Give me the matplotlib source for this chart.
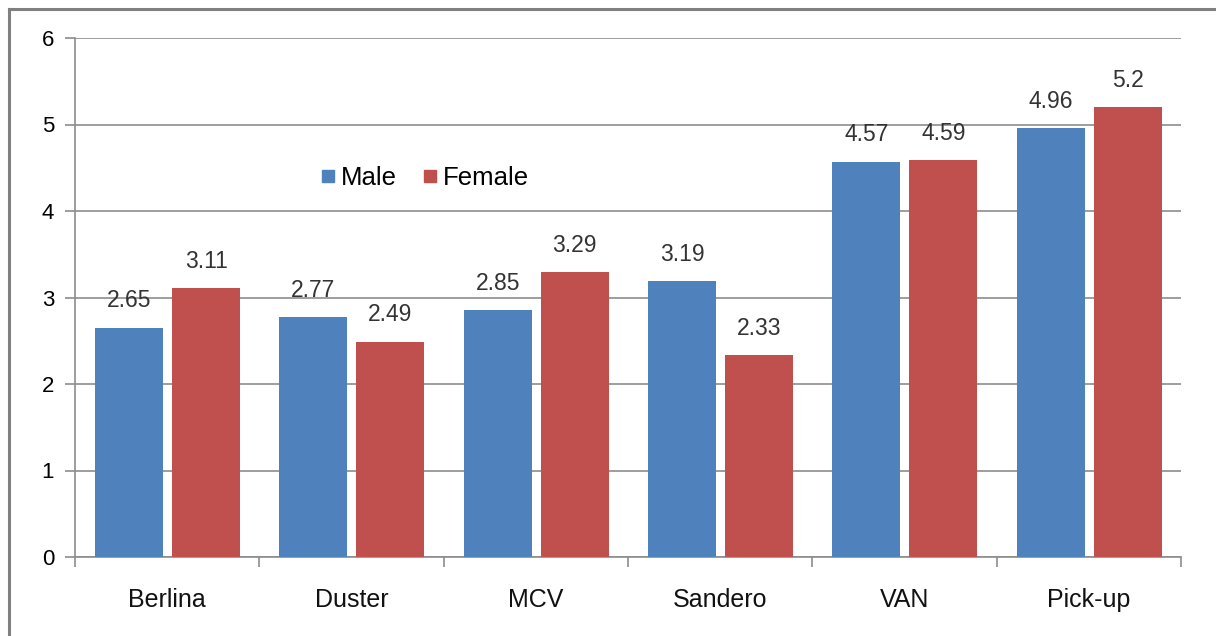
#!/usr/bin/env python3

import matplotlib.pyplot as plt
import numpy as np
from matplotlib.lines import Line2D

plt.rcParams["font.family"] = ["Liberation Sans", "DejaVu Sans"]

CATEGORIES = ["Berlina", "Duster", "MCV", "Sandero", "VAN", "Pick-up"]
MALE = [2.65, 2.77, 2.85, 3.19, 4.57, 4.96]
FEMALE = [3.11, 2.49, 3.29, 2.33, 4.59, 5.2]
VALUE_LABELS_MALE = ["2.65", "2.77", "2.85", "3.19", "4.57", "4.96"]
VALUE_LABELS_FEMALE = ["3.11", "2.49", "3.29", "2.33", "4.59", "5.2"]
Y_TICKS = [0, 1, 2, 3, 4, 5, 6]

BLUE = "#4F81BD"
RED = "#C0504D"
GRID = "#8c8c8c"


def main():
    fig = plt.figure(figsize=(12.16, 6.36), dpi=100)
    ax = fig.add_axes([75 / 1216, 79 / 636, 1106 / 1216, 519 / 636])

    x = np.arange(len(CATEGORIES))
    width = 0.369
    ax.bar(x - 0.207, MALE, width, color=BLUE, zorder=3)
    ax.bar(x + 0.211, FEMALE, width, color=RED, zorder=3)

    # value labels above each bar
    for xi, v, txt in zip(x, MALE, VALUE_LABELS_MALE):
        ax.annotate(txt, (xi - 0.207, v), textcoords="offset points",
                    xytext=(0, 11), ha="center", va="bottom",
                    fontsize=16.5, color="#333333", zorder=4)
    for xi, v, txt in zip(x, FEMALE, VALUE_LABELS_FEMALE):
        ax.annotate(txt, (xi + 0.211, v), textcoords="offset points",
                    xytext=(0, 11), ha="center", va="bottom",
                    fontsize=16.5, color="#333333", zorder=4)

    ax.set_xlim(-0.5, len(CATEGORIES) - 0.5)
    ax.set_ylim(0, 6)
    ax.set_yticks(Y_TICKS)
    ax.set_yticklabels([str(t) for t in Y_TICKS], fontsize=16)
    ax.yaxis.grid(True, color=GRID, linewidth=1.2, zorder=0)
    ax.set_axisbelow(True)

    # category labels between boundary ticks
    ax.set_xticks(np.arange(len(CATEGORIES) + 1) - 0.5)
    ax.set_xticklabels([])
    ax.set_xticks(x, minor=True)
    ax.set_xticklabels(CATEGORIES, minor=True, fontsize=18, color="#111111")
    ax.tick_params(axis="x", which="minor", length=0, pad=22)
    ax.tick_params(axis="x", which="major", length=7, color=GRID, width=1.2)
    ax.tick_params(axis="y", length=7, color=GRID, width=1.2, pad=8)

    for side in ("top", "right"):
        ax.spines[side].set_visible(False)
    ax.spines["left"].set_color(GRID)
    ax.spines["bottom"].set_color(GRID)
    ax.spines["left"].set_linewidth(1.2)
    ax.spines["bottom"].set_linewidth(1.2)

    handles = [
        Line2D([], [], marker="s", linestyle="none", markersize=9,
               markerfacecolor=BLUE, markeredgecolor=BLUE, label="Male"),
        Line2D([], [], marker="s", linestyle="none", markersize=9,
               markerfacecolor=RED, markeredgecolor=RED, label="Female"),
    ]
    fig.legend(handles=handles, loc="center", bbox_to_anchor=(425 / 1216, 1 - 178 / 636),
               ncol=2, frameon=False, fontsize=18.5, handlelength=0.6,
               handletextpad=0.2, columnspacing=1.0)

    # outer chart border (only top and left visible in the crop)
    fig.add_artist(Line2D([9 / 1216, 1.0], [1 - 9 / 636, 1 - 9 / 636],
                          color="#808080", linewidth=2.2))
    fig.add_artist(Line2D([9 / 1216, 9 / 1216], [0.0, 1 - 9 / 636],
                          color="#808080", linewidth=2.2))

    fig.savefig("out.png", dpi=100)
    plt.close(fig)


if __name__ == "__main__":
    main()
